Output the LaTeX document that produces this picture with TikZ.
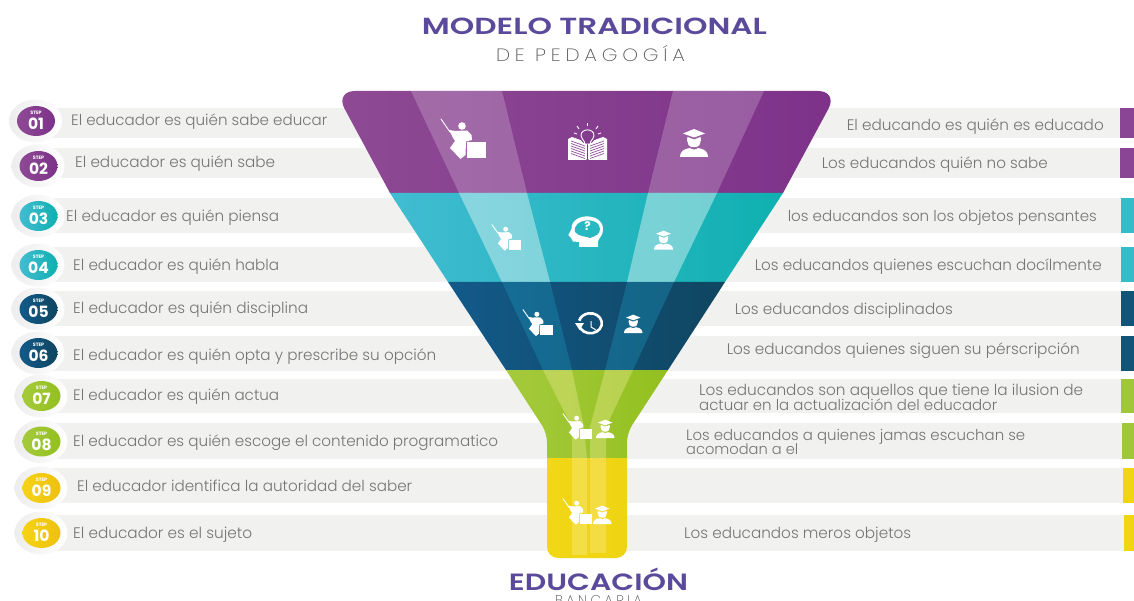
\documentclass[tikz,border=0pt]{standalone}
\usepackage{fontspec}
\usepackage{graphicx}
\setmainfont{Poppins}[UprightFont=* Light,BoldFont=* SemiBold]
\newfontfamily\spacedfont{Poppins}[UprightFont=* ExtraLight,LetterSpace=24]
\newfontfamily\badgefont{Poppins}[UprightFont=* Bold]
\usetikzlibrary{shadings,shapes.geometric}
\definecolor{titlec}{HTML}{5B4A9B}
\definecolor{subc}{HTML}{555555}
\definecolor{txtc}{HTML}{757575}
\definecolor{barc}{HTML}{F1F1F0}
\definecolor{pa}{HTML}{8E4A94}\definecolor{pb}{HTML}{7D3289}
\definecolor{ta}{HTML}{42BCD2}\definecolor{tb}{HTML}{0FB0B0}
\definecolor{ba}{HTML}{135A8A}\definecolor{bb}{HTML}{0F4560}
\definecolor{ga}{HTML}{A5CA3C}\definecolor{gb}{HTML}{93C01F}
\definecolor{ya}{HTML}{F1D716}\definecolor{yb}{HTML}{EFD413}
\definecolor{yc}{HTML}{F5D316}\definecolor{yd}{HTML}{EEC10F}
\definecolor{tp}{HTML}{8A4595}\definecolor{tt}{HTML}{35BCC8}
\definecolor{tbl}{HTML}{125478}\definecolor{tg}{HTML}{A0C73A}\definecolor{ty}{HTML}{F2D512}
\definecolor{beamblue}{HTML}{1A88AD}\definecolor{beamgreen}{HTML}{E8E88A}
\tikzset{
  lbl/.style={anchor=west,inner sep=0pt,text=txtc},
  lblr/.style={anchor=east,inner sep=0pt,text=txtc},
  beamp/.style={fill=white,fill opacity=.2,draw=none},
  beamt/.style={fill=white,fill opacity=.4,draw=none},
  beamb/.style={fill=beamblue,fill opacity=.45,draw=none},
  beamg/.style={fill=beamgreen,fill opacity=.42,draw=none},
  beamy/.style={fill=white,fill opacity=.2,draw=none},
  outerb/.style={ellipse,minimum width=53pt,minimum height=43pt,inner sep=0pt,left color=black!7,right color=white,draw=none},
  innerb/.style={ellipse,minimum width=38pt,minimum height=30pt,inner sep=0pt,draw=none},
  stepw/.style={inner sep=0pt,text=white,font=\fontsize{4.8}{5}\badgefont},
  stepn/.style={inner sep=0pt,text=white,font=\fontsize{15.5}{16}\badgefont},
  pics/teacher/.style={code={
    \draw[white,line width=.9pt,line cap=round] (0,1)--(9,14);
    \fill[white] (21,8) circle[radius=3.8];
    \fill[white] (8,12)--(14,13)--(26,12.5)--(30.5,17)--(31,22)--(25,23.5)--(24.5,37)--(19.5,41)--(9,30)--(14,23)--(12,20)--cycle;
    \fill[white] (25.5,24) rectangle (45,40);
  }},
  pics/grad/.style={code={
    \fill[white] (3,5.5)--(14,1)--(25,5.5)--(14,9.5)--cycle;
    \fill[white] (7.5,9)--(14,11.5)--(20.5,9)--(21,12)--(19.5,17) .. controls (18,20) and (10,20) .. (8.5,17)--(7,12)--cycle;
    \fill[white] (0,29) .. controls (0,24) and (3,21) .. (10,20) .. controls (12,22) and (16,22) .. (18,20) .. controls (25,21) and (28,24) .. (28,29)--cycle;
  }}
}
\newcommand\lefttxt[5]{\node[lbl] (#1) at (#2,#3+2) {\resizebox{#4pt}{!}{\strut #5}};}
\newcommand\righttxt[5]{\node[lblr] (#1) at (#2,#3+2) {\resizebox{#4pt}{!}{\strut #5}};}
\newcommand\badge[6]{%
  \node[outerb] (o#1) at (#2-0.5,#3) {};
  \node[innerb,left color=#4,right color=#5] (i#1) at (#2,#3) {};
  \node[stepw] (s#1) at (#2,#3-8) {STEP};
  \node[stepn] (n#1) at (#2,#3+3) {#6};}
\begin{document}
\begin{tikzpicture}[x=1pt,y=-1pt]
\useasboundingbox (0,0) rectangle (1134,601);
\clip (0,0) rectangle (1134,601);
% grey bars and tabs
\foreach \ya/\yb/\tx/\cl in {108/138/1120/tp,148/178/1120/tp,198/233/1121/tt,247/282/1121/tt,291/326/1121/tbl,336/371/1121/tbl,379/413/1121/tg,423/459/1122/tg,468/503/1123/ty,515/551/1124/ty}{
  \fill[barc] (40,\ya) rectangle (\tx,\yb);
  \fill[\cl] (\tx,\ya) rectangle (1134,\yb);
}
% funnel
\shade[left color=pa,right color=pb] (390,193) [rounded corners=20pt] -- (335,91) -- (838,91) [sharp corners] -- (783,193) -- cycle;
\shade[left color=ta,right color=tb] (390,193) -- (783,193) -- (725,282) -- (448,282) -- cycle;
\shade[left color=ba,right color=bb] (448,282) -- (725,282) -- (668,370) -- (506,370) -- cycle;
\shade[left color=ga,right color=gb] (506,370) -- (668,370) [rounded corners=9pt] -- (627,433) [sharp corners] -- (627,458) -- (547,458) [rounded corners=9pt] -- (547,433) [sharp corners] -- cycle;
\shade[left color=ya,right color=yb] (547,458) -- (627,458) [rounded corners=11pt] -- (627,558) -- (547,558) [sharp corners] -- cycle;
% light beams, left
\fill[beamp] (411,91) -- (502,91) -- (527,193) -- (459,193) -- cycle;
\fill[beamt] (459,193) -- (527,193) -- (550,282) -- (502,282) -- cycle;
\fill[beamb] (502,282) -- (550,282) -- (572,370) -- (543,370) -- cycle;
\fill[beamg] (543,370) -- (572,370) -- (584,427) -- (587,458) -- (572,458) -- (572,427) -- cycle;
\fill[beamy] (572,458) -- (587,458) -- (587,555) -- (572,555) -- cycle;
% light beams, right
\fill[beamp] (673,91) -- (764,91) -- (717,193) -- (648,193) -- cycle;
\fill[beamt] (648,193) -- (717,193) -- (674,282) -- (627,282) -- cycle;
\fill[beamb] (627,282) -- (674,282) -- (633,370) -- (605,370) -- cycle;
\fill[beamg] (605,370) -- (633,370) -- (606,427) -- (606,458) -- (590,458) -- (590,427) -- cycle;
\fill[beamy] (590,458) -- (606,458) -- (606,553) -- (590,553) -- cycle;
% teacher icons
\pic at (441,118) {teacher};
\pic[scale=.65] at (492,224) {teacher};
\pic[scale=.66] at (523,309) {teacher};
\pic[scale=.65] at (563,413) {teacher};
\pic[scale=.65] at (563,498) {teacher};
% graduate icons
\pic at (680,128) {grad};
\pic[scale=.68] at (654,230) {grad};
\pic[scale=.66] at (624,314) {grad};
\pic[scale=.66] at (596,419) {grad};
\pic[scale=.66] at (593,505) {grad};
% book and bulb
\fill[white] (568,139) -- (572,137) -- (586,142) -- (589,142) -- (603,137) -- (607,139) -- (607,160) -- (589,160) -- (587.5,158) -- (586,160) -- (568,160) -- cycle;
\foreach \d in {0,2.5,...,12.5}{
  \draw[pb!85!white,line width=.7pt] (571,141+\d) -- (585,146+\d);
  \draw[pb!85!white,line width=.7pt] (604,141+\d) -- (590,146+\d);
}
\fill[pb] (587,143) rectangle (588,159);
\fill[pb!95!white] (587.5,136.5) circle[radius=7.5];
\draw[white,line width=.9pt] (584.5,142) .. controls (583,139) and (581,138) .. (581,135.5) .. controls (581,128) and (594,128) .. (594,135.5) .. controls (594,138) and (592,139) .. (590.5,142) -- (590.5,144) -- (584.5,144) -- cycle;
\foreach \a/\b/\c/\e in {587.5/123/587.5/126,577/126/579/129,598/126/596/129,574/133/577/134,601/133/598/134}{
  \draw[white,line width=.9pt] (\a,\b) -- (\c,\e);
}
% head with question
\fill[white] (579,247) -- (579,242) -- (573,241.5) -- (571,238) -- (568.3,235) -- (571.5,229) .. controls (571,212) and (604,212) .. (603,230) .. controls (603,235) and (599,238) .. (598,241) -- (598,247) -- cycle;
\fill[tt!65!tb] (575,232) .. controls (572,218) and (600,216) .. (600,229) .. controls (600,234) and (596,236) .. (590,238) .. controls (586,236) and (579,237) .. (575,232) -- cycle;
\node[inner sep=0pt,text=white,font=\fontsize{12}{12}\badgefont] (qm) at (587.5,226.5) {?};
% clock
\draw[white,line width=2.6pt] (579,325) arc[start angle=170,end angle=-165,x radius=11.5,y radius=10];
\fill[white] (575,323) -- (584,323) -- (579.5,330) -- cycle;
\draw[white,line width=1pt] (591,321) -- (591,327) -- (596,330);
% badges
\badge{a}{36}{121}{pa}{pb}{01}
\badge{b}{38.5}{166}{pa}{pb}{02}
\badge{c}{38.5}{216}{ta}{tb}{03}
\badge{d}{38.5}{265}{ta}{tb}{04}
\badge{e}{38.5}{309}{ba}{bb}{05}
\badge{f}{38.5}{353}{ba}{bb}{06}
\badge{g}{41.5}{396}{ga}{gb}{07}
\badge{h}{41.5}{441.5}{ga}{gb}{08}
\badge{i}{41.5}{488}{yc}{yd}{09}
\badge{j}{41.5}{533}{yc}{yd}{10}
% left texts
\lefttxt{l1}{71}{120}{256}{El educador es quién sabe educar}
\lefttxt{l2}{75}{162}{200}{El educador es quién sabe}
\lefttxt{l3}{66}{216}{213}{El educador es quién piensa}
\lefttxt{l4}{73}{265}{206}{El educador es quién habla}
\lefttxt{l5}{73}{308}{235}{El educador es quién disciplina}
\lefttxt{l6}{73}{355}{363}{El educador es quién opta y prescribe su opción}
\lefttxt{l7}{73}{395}{206}{El educador es quién actua}
\lefttxt{l8}{73}{441}{425}{El educador es quién escoge el contenido programatico}
\lefttxt{l9}{77}{486}{335}{El educador identifica la autoridad del saber}
\lefttxt{l10}{73}{533}{179}{El educador es el sujeto}
% right texts
\righttxt{r1}{1104}{125}{257}{El educando es quién es educado}
\righttxt{r2}{1048}{163}{226}{Los educandos quién no sabe}
\righttxt{r3}{1097}{216}{309}{los educandos son los objetos pensantes}
\righttxt{r4}{1102}{265}{347}{Los educandos quienes escuchan docílmente}
\righttxt{r5}{953}{309}{218}{Los educandos disciplinados}
\righttxt{r6}{1080}{349}{353}{Los educandos quienes siguen su pérscripción}
\lefttxt{r7a}{699}{390}{384}{Los educandos son aquellos que tiene la ilusion de}
\lefttxt{r7b}{699}{405}{298}{actuar en la actualización del educador}
\lefttxt{r8a}{686}{435}{339}{Los educandos a quienes jamas escuchan se}
\lefttxt{r8b}{686}{449}{112}{acomodan a el}
\lefttxt{r10}{684}{533}{227}{Los educandos meros objetos}
% titles
\node[inner sep=0pt,text=titlec,anchor=base] (t1) at (594.5,35) {\resizebox{345pt}{16.5pt}{\bfseries MODELO TRADICIONAL}};
\node[inner sep=0pt,text=subc,anchor=base] (t2) at (590.5,62) {\resizebox{189pt}{16pt}{\spacedfont DE PEDAGOGÍA}};
\node[inner sep=0pt,text=titlec,anchor=base] (t3) at (598.5,590) {\resizebox{179pt}{22.5pt}{\bfseries EDUCACIÓN}};
\node[inner sep=0pt,text=subc,anchor=base] (t4) at (598.5,605) {\resizebox{87pt}{10pt}{\spacedfont BANCARIA}};
\end{tikzpicture}
\end{document}
